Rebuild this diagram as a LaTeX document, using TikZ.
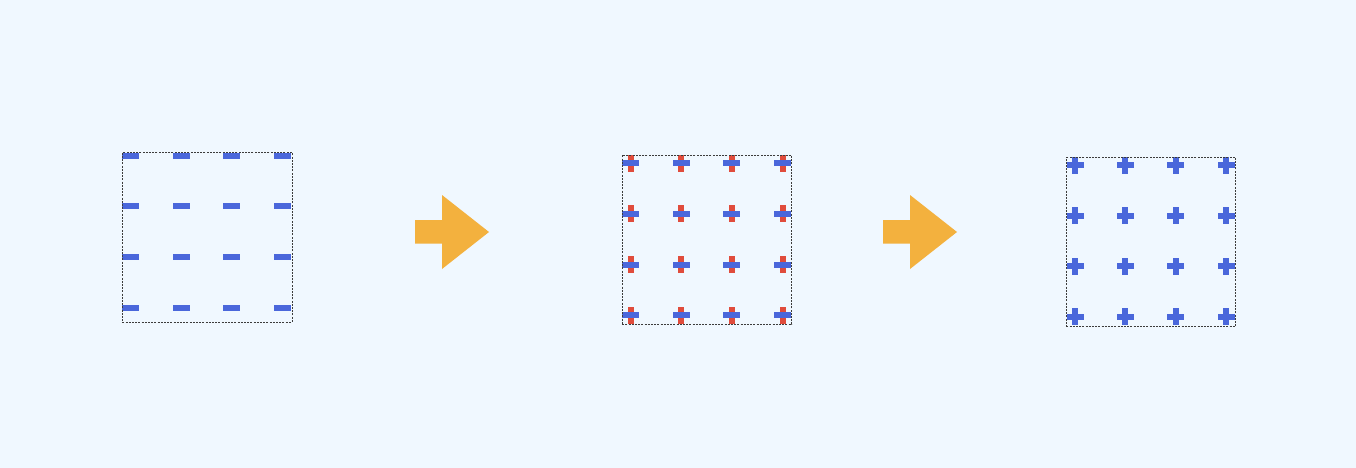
\documentclass[tikz,border=0pt]{standalone}
\definecolor{bg}{RGB}{240,248,255}
\definecolor{mblue}{RGB}{74,103,219}
\definecolor{mred}{RGB}{224,76,60}
\definecolor{morange}{RGB}{243,177,62}
\definecolor{frame}{RGB}{60,60,60}
\tikzset{
  panelbox/.style={draw=frame, line width=0.9pt, dash pattern=on 2pt off 1.2pt, fill=none},
  bluebar/.style={fill=mblue, draw=none},
  redbar/.style={fill=mred, draw=none},
  bigarrow/.style={fill=morange, draw=none}
}
\begin{document}
\begin{tikzpicture}[x=1pt,y=-1pt]
\fill[bg] (0,0) rectangle (1356,468);
\useasboundingbox (0,0) rectangle (1356,468);

% Panel 1
\begin{scope}
\clip (122,152) rectangle (291.5,321.5);
\foreach \i in {0,1,2,3}{
  \foreach \j in {0,1,2,3}{
    \fill[bluebar] ({122+50.6*\i},{152.7+50.6*\j}) rectangle ++(17,6);
  }
}
\end{scope}
\node[panelbox, minimum width=169.5pt, minimum height=169.5pt, inner sep=0pt, anchor=north west] (p1) at (122,152) {};

% Arrow 1
\fill[bigarrow] (415,220) -- (442,220) -- (442,195) -- (489,232) -- (442,269) -- (442,243.7) -- (415,243.7) -- cycle;

% Panel 2
\begin{scope}
\clip (621.7,154.7) rectangle (791.3,324);
\foreach \i in {0,1,2,3}{
  \foreach \j in {0,1,2,3}{
    \fill[redbar] ({627.8+50.6*\i},{154.7+50.6*\j}) rectangle ++(6,17);
    \fill[bluebar] ({622+50.6*\i},{160.3+50.6*\j}) rectangle ++(17,6);
  }
}
\end{scope}
\node[panelbox, minimum width=169.6pt, minimum height=169.3pt, inner sep=0pt, anchor=north west] (p2) at (621.7,154.7) {};

% Arrow 2
\fill[bigarrow] (883,220) -- (910,220) -- (910,195) -- (957,232) -- (910,269) -- (910,243.7) -- (883,243.7) -- cycle;

% Panel 3
\begin{scope}
\clip (1066,157) rectangle (1235.3,326);
\foreach \i in {0,1,2,3}{
  \foreach \j in {0,1,2,3}{
    \fill[bluebar] ({1075+50.4*\i-8.5},{165+50.6*\j-3}) rectangle ++(17,6);
    \fill[bluebar] ({1075+50.4*\i-3},{165+50.6*\j-8.5}) rectangle ++(6,17);
  }
}
\end{scope}
\node[panelbox, minimum width=169.3pt, minimum height=169pt, inner sep=0pt, anchor=north west] (p3) at (1066,157) {};
\end{tikzpicture}
\end{document}
